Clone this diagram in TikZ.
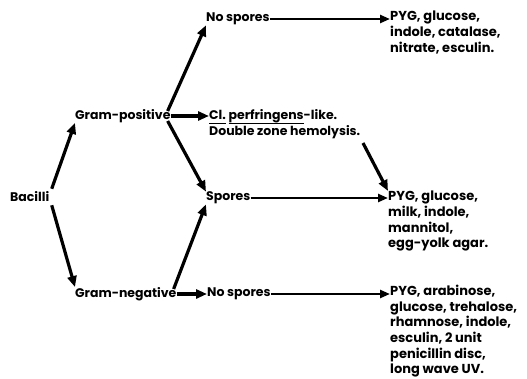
\documentclass[tikz,border=0pt]{standalone}
\usepackage{fontspec}
\setmainfont{Poppins}
\usetikzlibrary{arrows.meta}
\newcommand\myul[1]{\leavevmode\setbox0\hbox{#1}\rlap{\vrule width\wd0 height -3.4pt depth 4.8pt}\box0\relax}
\begin{document}
\begin{tikzpicture}[x=1pt,y=-1pt,
  lbl/.style={inner sep=0pt,anchor=west,font=\fontsize{12.5}{16}\selectfont\bfseries},
  blk/.style={inner sep=0pt,anchor=north west,align=left,font=\fontsize{13}{15.6}\selectfont\bfseries},
  arr/.style={line width=3.2pt,-{Triangle[length=11pt,width=9pt]}},
  tarr/.style={line width=2.4pt,-{Triangle[length=10pt,width=8pt]}}]
\useasboundingbox (0,0) rectangle (527,378);
\node[lbl] (bac) at (10,197) {Bacilli};
\node[lbl] (gp) at (75,116) {Gram-positive};
\node[lbl] (gn) at (75,294) {Gram-negative};
\node[lbl] (ns1) at (206,19) {No spores};
\node[lbl,align=left,anchor=north west] (cl) at (209,109) {\myul{Cl.} \myul{perfringens}-like.\\Double zone hemolysis.};
\node[lbl] (sp) at (206,198) {Spores};
\node[lbl] (ns2) at (207,294) {No spores};
\node[blk] (r1) at (390,11) {PYG, glucose,\\indole, catalase,\\nitrate, esculin.};
\node[blk] (r2) at (388,191) {PYG, glucose,\\milk, indole,\\mannitol,\\egg-yolk agar.};
\node[blk] (r3) at (390,285) {PYG, arabinose,\\glucose, trehalose,\\rhamnose, indole,\\esculin, 2 unit\\penicillin disc,\\long wave UV.};
\coordinate (hem) at (363,143);
\draw[arr] (bac.north) ++(22,-3) -- (gp.south west);
\draw[arr] (bac.south) ++(22,3) -- (gn.north west);
\draw[arr] (gp.east) ++(-3,-5) -- (ns1.south west);
\draw[arr] (gp.east) -- (cl.west |- gp.east);
\draw[arr] (gp.east) ++(-3,5) -- (sp.north west);
\draw[arr] (gn.east) ++(-3,-5) -- (sp.south west);
\draw[arr] (gn.east) -- (ns2.west);
\draw[tarr] (ns1.east) -- (r1.west |- ns1.east);
\draw[tarr] (sp.east) -- (r2.west |- sp.east);
\draw[tarr] (ns2.east) -- (r3.west |- ns2.east);
\draw[arr] (hem) -- (r2.north west);
\end{tikzpicture}
\end{document}
